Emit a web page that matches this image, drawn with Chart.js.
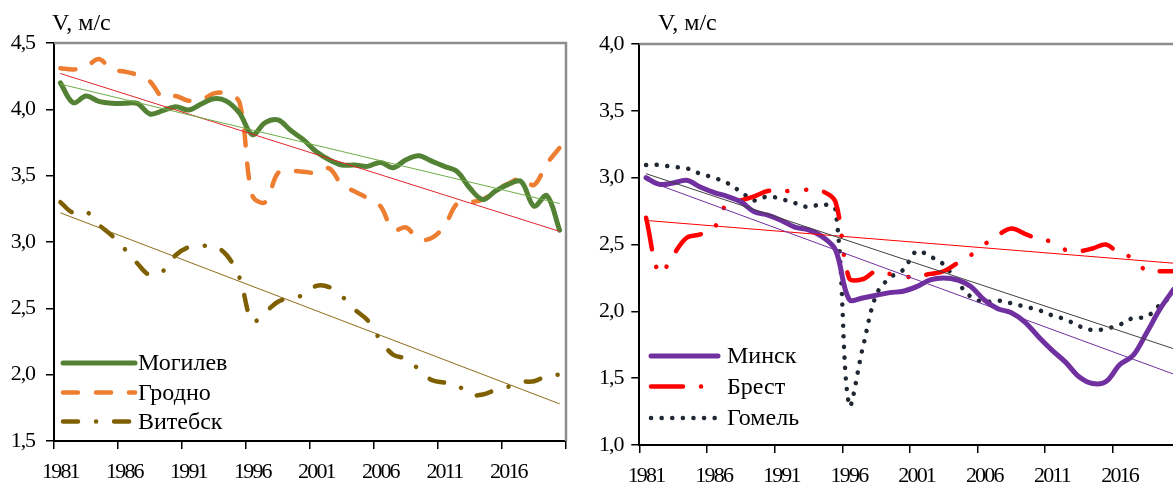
<!DOCTYPE html>
<html>
<head>
<meta charset="utf-8">
<script src="https://cdn.jsdelivr.net/npm/chart.js@4.4.0/dist/chart.umd.min.js"></script>
<style>
  html, body { margin: 0; padding: 0; background: #fff; overflow: hidden; width: 1173px; height: 484px; }
  #graficoIzq { position: absolute; left: 0; top: 0; }
  #graficoDer { position: absolute; left: 590px; top: 0; }
</style>
</head>
<body>
<canvas id="graficoIzq" width="590" height="484"></canvas>
<canvas id="graficoDer" width="600" height="484"></canvas>
<script>
// años (categorías del eje X)
const anios = ['1981','1982','1983','1984','1985','1986','1987','1988','1989','1990',
               '1991','1992','1993','1994','1995','1996','1997','1998','1999','2000',
               '2001','2002','2003','2004','2005','2006','2007','2008','2009','2010',
               '2011','2012','2013','2014','2015','2016','2017','2018','2019','2020'];

// velocidad del viento, m/s
const mogilev = [4.20, 4.05, 4.10, 4.06, 4.045, 4.045, 4.045, 3.965, 3.99, 4.02,
                 3.995, 4.04, 4.08, 4.06, 3.97, 3.81, 3.90, 3.92, 3.84, 3.77,
                 3.68, 3.62, 3.58, 3.58, 3.57, 3.60, 3.56, 3.62, 3.65, 3.61,
                 3.57, 3.53, 3.405, 3.32, 3.385, 3.435, 3.455, 3.27, 3.35, 3.09];
const grodno = [4.31, 4.30, 4.32, 4.38, 4.30, 4.285, 4.26, 4.21, 4.09, 4.10,
                4.065, 4.07, 4.12, 4.12, 4.05, 3.35, 3.30, 3.52, 3.535, 3.53,
                3.52, 3.555, 3.43, 3.38, 3.33, 3.27, 3.09, 3.11, 3.02, 3.03,
                3.12, 3.29, 3.30, 3.32, 3.39, 3.44, 3.48, 3.43, 3.59, 3.71];
const vitebsk = [3.30, 3.22, 3.23, 3.13, 3.05, 2.95, 2.84, 2.75, 2.78, 2.90,
                 2.96, 2.97, 2.97, 2.90, 2.73, 2.40, 2.47, 2.55, 2.58, 2.60,
                 2.67, 2.66, 2.59, 2.49, 2.41, 2.26, 2.15, 2.12, 2.04, 1.96,
                 1.94, 1.92, 1.85, 1.85, 1.885, 1.91, 1.945, 1.95, 1.99, 2.00];
const minsk = [3.00, 2.95, 2.96, 2.98, 2.93, 2.89, 2.86, 2.82, 2.745, 2.72,
               2.68, 2.63, 2.61, 2.56, 2.46, 2.09, 2.10, 2.12, 2.14, 2.15,
               2.185, 2.235, 2.25, 2.235, 2.185, 2.085, 2.02, 1.99, 1.92, 1.81,
               1.71, 1.62, 1.51, 1.46, 1.475, 1.60, 1.67, 1.84, 2.02, 2.165];
const brest = [2.70, 2.28, 2.42, 2.55, 2.575, 2.62, 2.81, 2.83, 2.86, 2.90,
               2.90, 2.90, 2.91, 2.90, 2.82, 2.25, 2.24, 2.30, 2.28, 2.26,
               2.26, 2.28, 2.30, 2.36, 2.42, 2.50, 2.57, 2.62, 2.58, 2.54,
               2.52, 2.46, 2.45, 2.47, 2.50, 2.43, 2.40, 2.30, 2.30, 2.30];
const gomel = [3.095, 3.095, 3.08, 3.07, 3.03, 3.00, 2.96, 2.895, 2.83, 2.86,
               2.84, 2.81, 2.78, 2.80, 2.76, 1.30, 1.72, 2.12, 2.25, 2.31,
               2.45, 2.41, 2.35, 2.22, 2.11, 2.07, 2.08, 2.06, 2.035, 2.01,
               1.97, 1.94, 1.89, 1.86, 1.87, 1.90, 1.95, 1.96, 2.05, 2.12];

// líneas de tendencia: valor en 1981 y en 2020
const trendMogilev = [4.19, 3.29];
const trendGrodno = [4.27, 3.08];
const trendVitebsk = [3.22, 1.78];
const trendMinsk = [2.98, 1.53];
const trendBrest = [2.68, 2.36];
const trendGomel = [3.03, 1.72];

const ticksIzq = [1.5, 4.5];
const ticksDer = [1.0, 4.0];

const familia = '"Liberation Serif", "Times New Roman", serif';
const fuente = { family: familia, size: 22 };

function serie(label, data, color, ancho, guion) {
    return {
        label: label,
        data: data,
        borderColor: color,
        borderWidth: ancho,
        borderDash: guion,
        borderCapStyle: 'round',
        borderJoinStyle: 'round',
        pointRadius: 0,
        tension: 0.35,
        fill: false
    };
}

function tendencia(valores, color) {
    return {
        data: [{ x: anios[0], y: valores[0] }, { x: anios[anios.length - 1], y: valores[1] }],
        borderColor: color,
        borderWidth: 1,
        pointRadius: 0,
        tension: 0,
        fill: false
    };
}

function ejes(rango, anchoY, altoX, padY) {
    return {
        x: {
            type: 'category',
            offset: true,
            afterFit(s) { s.height = altoX; },
            grid: {
                offset: true,
                drawOnChartArea: false,
                tickLength: 8,
                lineWidth: 1.5,
                color: c => (c.index === undefined || c.index % 5 === 0) ? '#000' : 'rgba(0,0,0,0)'
            },
            border: { color: '#000', width: 2 },
            ticks: {
                autoSkip: false,
                maxRotation: 0,
                padding: 10,
                color: '#000',
                font: fuente,
                callback: (v, i) => i % 5 === 0 ? anios[i] : ''
            }
        },
        y: {
            min: rango[0],
            max: rango[1],
            afterFit(s) { s.width = anchoY; },
            grid: { drawOnChartArea: false, tickLength: 8, lineWidth: 1.5, color: '#000' },
            border: { color: '#000', width: 2 },
            ticks: {
                stepSize: 0.5,
                padding: padY,
                color: '#000',
                font: fuente,
                callback: v => v.toFixed(1).replace('.', ',')
            }
        }
    };
}

// marco gris, título del eje y leyenda dentro del área
const marco = {
    id: 'marco',
    beforeDraw(chart) {
        // los números de los ejes van algo apretados
        const espacio = { x: '-1.8px', y: '-1.1px' };
        Object.values(chart.scales).forEach(s => {
            if (s._apretado) return;
            const original = s.drawLabels;
            s.drawLabels = function (area) {
                const ctx = this.ctx;
                const antes = ctx.letterSpacing;
                ctx.letterSpacing = espacio[this.axis];
                original.call(this, area);
                ctx.letterSpacing = antes;
            };
            s._apretado = true;
        });
    },
    afterDraw(chart, args, opts) {
        const ctx = chart.ctx;
        const a = chart.chartArea;
        ctx.save();
        ctx.letterSpacing = '0px';
        ctx.strokeStyle = '#8c8c8c';
        ctx.lineWidth = 2.5;
        ctx.beginPath();
        ctx.moveTo(a.left, a.top);
        ctx.lineTo(a.right, a.top);
        ctx.lineTo(a.right, a.bottom);
        ctx.stroke();

        ctx.fillStyle = '#000';
        ctx.font = '24px ' + familia;
        ctx.textBaseline = 'alphabetic';
        ctx.fillText('V, м/с', opts.tituloX, 30);

        ctx.textBaseline = 'middle';
        opts.leyenda.forEach((idx, k) => {
            const ds = chart.data.datasets[idx];
            const y = opts.filas[k];
            ctx.save();
            ctx.strokeStyle = ds.borderColor;
            ctx.lineWidth = ds.borderWidth;
            ctx.lineCap = 'round';
            ctx.setLineDash(ds.borderDash || []);
            ctx.beginPath();
            ctx.moveTo(opts.x0, y);
            ctx.lineTo(opts.x1, y);
            ctx.stroke();
            ctx.restore();
            ctx.fillText(ds.label, opts.tx, y + 1);
        });
        ctx.restore();
    }
};

function mostrarGrafico(id, datasets, rango, anchoY, altoX, pad, padY, leyenda) {
    new Chart(document.getElementById(id), {
        type: 'line',
        data: { labels: anios, datasets: datasets },
        options: {
            responsive: false,
            animation: false,
            layout: { padding: pad },
            scales: ejes(rango, anchoY, altoX, padY),
            plugins: {
                legend: { display: false },
                tooltip: { enabled: false },
                marco: leyenda
            }
        },
        plugins: [marco]
    });
}

mostrarGrafico('graficoIzq', [
    tendencia(trendMogilev, '#70AD47'),
    tendencia(trendGrodno, '#E0262B'),
    tendencia(trendVitebsk, '#8C6D1A'),
    serie('Могилев', mogilev, '#548235', 5, []),
    serie('Гродно', grodno, '#ED7D31', 4.5, [15, 18]),
    serie('Витебск', vitebsk, '#7F6000', 4.5, [15, 18, 0.1, 18])
], ticksIzq, 54, 43, { top: 43, right: 24, left: 0, bottom: 0 }, 11, {
    tituloX: 52, x0: 63, x1: 135, tx: 138, filas: [363, 392.5, 421.5], leyenda: [3, 4, 5]
});

mostrarGrafico('graficoDer', [
    tendencia(trendGomel, '#404040'),
    tendencia(trendMinsk, '#7030A0'),
    tendencia(trendBrest, '#FF0000'),
    serie('Минск', minsk, '#7030A0', 5, []),
    serie('Брест', brest, '#FF0000', 4.5, [32, 18, 0.1, 19, 0.1, 18]),
    serie('Гомель', gomel, '#1F2733', 4.5, [0.1, 10.5])
], ticksDer, 49.3, 39, { top: 44, right: 9.5, left: 0, bottom: 0 }, 8, {
    tituloX: 68, x0: 61, x1: 128, tx: 137, filas: [356, 386.5, 418], leyenda: [3, 4, 5]
});
</script>
</body>
</html>
